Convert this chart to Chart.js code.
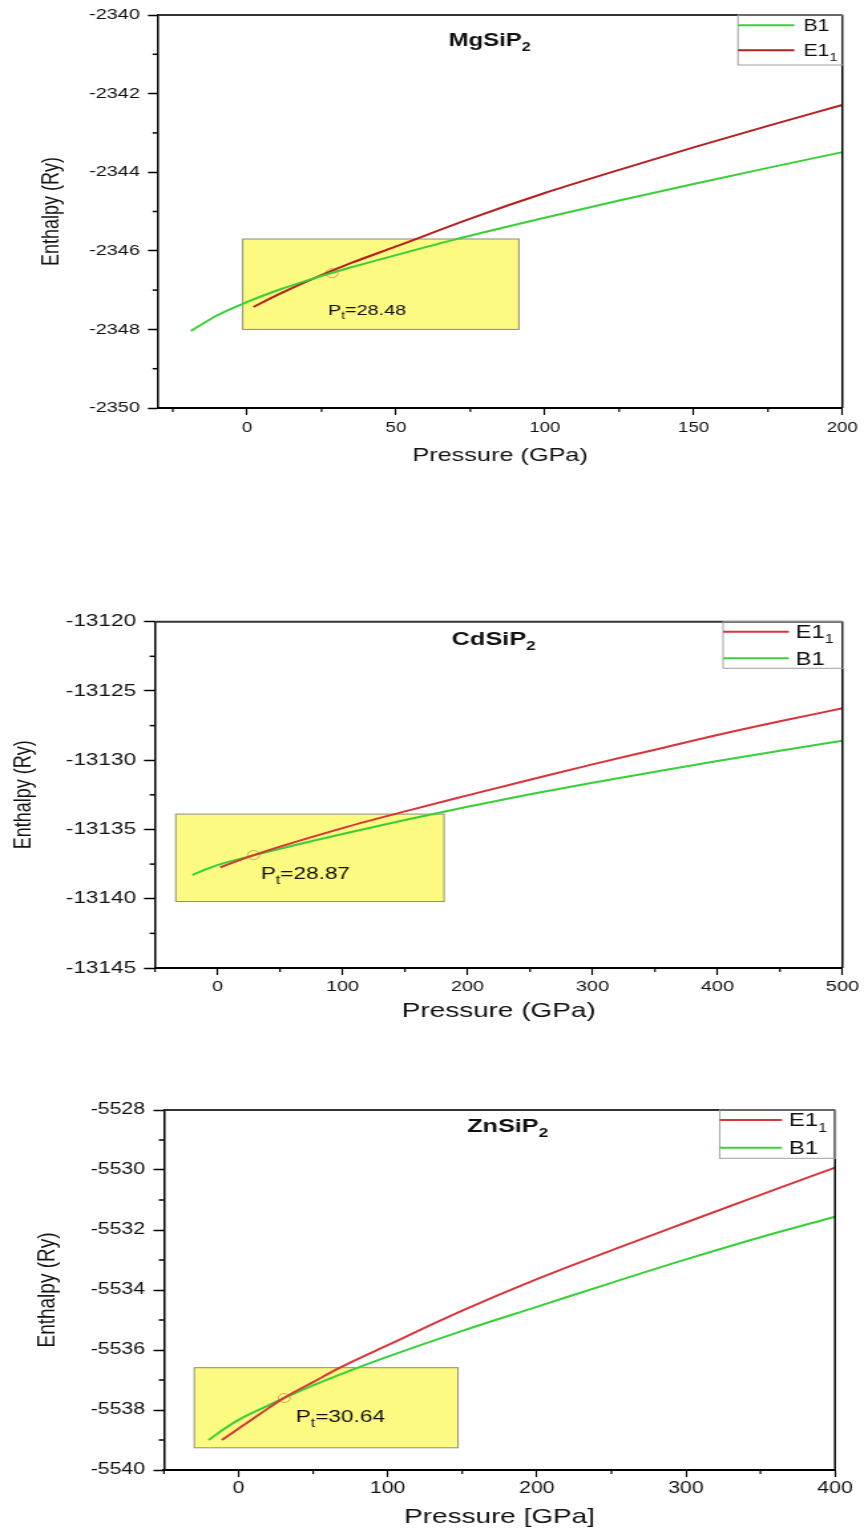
<!DOCTYPE html>
<html>
<head>
<meta charset="utf-8">
<title>Enthalpy vs pressure</title>
<script src="https://cdn.jsdelivr.net/npm/chart.js@4.4.1/dist/chart.umd.min.js"></script>
<style>
  html, body { margin: 0; padding: 0; background: #fff; }
  body { width: 864px; height: 1530px; position: relative; overflow: hidden; }
  /* panels are drawn narrow and widened, like the exported figure */
  .panel { position: absolute; left: 0; transform-origin: 0 0; transform: scaleX(1.3292); }
  .panel canvas { display: block; }
</style>
</head>
<body>
<div class="panel" style="top:0"><canvas id="mgChart" width="650" height="480"></canvas></div>
<div class="panel" style="top:560px"><canvas id="cdChart" width="650" height="480"></canvas></div>
<div class="panel" style="top:1060px"><canvas id="znChart" width="650" height="470"></canvas></div>
<script>
// ---------- DATA ----------
// MgSiP2
const mgB1P = [-18.9, -10, 0, 10, 21.6, 35, 50, 70, 100, 125, 150, 175, 200];
const mgB1H = [-2348.04, -2347.64, -2347.30, -2347.01, -2346.72, -2346.42, -2346.11, -2345.71, -2345.16, -2344.72, -2344.30, -2343.89, -2343.49];
const mgE1P = [2.1, 10, 21.6, 35, 50, 75, 100, 125, 150, 175, 200];
const mgE1H = [-2347.43, -2347.13, -2346.73, -2346.31, -2345.89, -2345.18, -2344.53, -2343.94, -2343.37, -2342.82, -2342.29];
const mgXTicks = [0, 50, 100, 150, 200];
const mgYTicks = [-2350, -2348, -2346, -2344, -2342, -2340];
const mgPt = 28.48, mgPtH = -2346.57;
const mgBox = [-1.5, 91.3, -2348.0, -2345.7];

// CdSiP2
const cdE1P = [2.2, 10, 27.9, 50, 100, 150, 200, 250, 300, 350, 400, 450, 500];
const cdE1H = [-13137.74, -13137.47, -13136.89, -13136.24, -13134.90, -13133.69, -13132.54, -13131.41, -13130.30, -13129.24, -13128.18, -13127.19, -13126.25];
const cdB1P = [-19.9, -10, 0, 27.9, 50, 100, 150, 200, 250, 300, 350, 400, 450, 500];
const cdB1H = [-13138.29, -13137.90, -13137.57, -13136.89, -13136.39, -13135.33, -13134.32, -13133.36, -13132.46, -13131.62, -13130.83, -13130.06, -13129.31, -13128.59];
const cdXTicks = [0, 100, 200, 300, 400, 500];
const cdYTicks = [-13145, -13140, -13135, -13130, -13125, -13120];
const cdPt = 28.87, cdPtH = -13136.85;
const cdBox = [-33.4, 181.3, -13140.2, -13133.89];

// ZnSiP2
const znE1P = [-11.2, 0, 15, 29.7, 50, 68, 100, 150, 200, 250, 300, 350, 400];
const znE1H = [-5539.00, -5538.62, -5538.11, -5537.62, -5537.07, -5536.59, -5535.84, -5534.69, -5533.64, -5532.68, -5531.75, -5530.83, -5529.92];
const znB1P = [-20.1, -10, 0, 15, 29.7, 50, 80, 100, 150, 200, 250, 300, 350, 400];
const znB1H = [-5539.00, -5538.64, -5538.33, -5537.96, -5537.62, -5537.18, -5536.59, -5536.22, -5535.36, -5534.56, -5533.76, -5532.98, -5532.24, -5531.56];
const znXTicks = [0, 100, 200, 300, 400];
const znYTicks = [-5540, -5538, -5536, -5534, -5532, -5530, -5528];
const znPt = 30.64, znPtH = -5537.6;
const znBox = [-29.7, 147.2, -5539.26, -5536.59];

const GREEN = '#38d038';
const FONT = '"Liberation Sans", Arial, Helvetica, sans-serif';
Chart.defaults.font.family = FONT;
Chart.defaults.color = '#111';

const pts = (xs, ys) => xs.map((v, i) => ({ x: v, y: ys[i] }));

// text where "_c" puts c as a subscript
function subText(ctx, str, x, y, size, bold, align) {
  const parts = [];
  for (let i = 0; i < str.length; i++) {
    if (str[i] === '_') { parts.push({ t: str[i + 1], sub: true }); i++; }
    else if (parts.length && !parts[parts.length - 1].sub) parts[parts.length - 1].t += str[i];
    else parts.push({ t: str[i], sub: false });
  }
  const fontOf = p => (bold ? 'bold ' : '') + Math.round(p.sub ? size * 0.68 : size) + 'px ' + FONT;
  let total = 0;
  parts.forEach(p => { ctx.font = fontOf(p); p.w = ctx.measureText(p.t).width; total += p.w; });
  let cx = align === 'center' ? x - total / 2 : x;
  ctx.textAlign = 'left';
  ctx.textBaseline = 'alphabetic';
  parts.forEach(p => {
    ctx.font = fontOf(p);
    ctx.fillText(p.t, cx, p.sub ? y + size * 0.28 : y);
    cx += p.w;
  });
}

function seg(ctx, x1, y1, x2, y2) {
  ctx.beginPath(); ctx.moveTo(x1, y1); ctx.lineTo(x2, y2); ctx.stroke();
}

// ---------- FRAME, HIGHLIGHT BOX, LABELS, LEGEND ----------
const decor = {
  id: 'decor',
  beforeDatasetsDraw(chart, args, o) {
    const { ctx, scales: { x, y } } = chart;
    const l = x.getPixelForValue(o.box[0]), r = x.getPixelForValue(o.box[1]);
    const b = y.getPixelForValue(o.box[2]), t = y.getPixelForValue(o.box[3]);
    ctx.save();
    ctx.fillStyle = 'rgb(252,250,128)';
    ctx.fillRect(l, t, r - l, b - t);
    ctx.strokeStyle = '#8c8c80';
    ctx.lineWidth = 1;
    ctx.strokeRect(l, t, r - l, b - t);
    ctx.restore();
  },
  afterDatasetsDraw(chart, args, o) {
    const { ctx, chartArea: a, scales: { x, y } } = chart;
    ctx.save();

    // top and right edges of the frame
    ctx.strokeStyle = '#333'; ctx.lineWidth = 2;
    seg(ctx, a.left, a.top, a.right, a.top);
    ctx.strokeStyle = '#000'; ctx.lineWidth = 1.5;
    seg(ctx, a.right, a.top, a.right, a.bottom);

    // minor ticks halfway between the labelled ones
    ctx.lineWidth = 1.2;
    const xs = o.minorX, ys = o.minorY;
    for (let v = Math.ceil(x.min / xs) * xs; v <= x.max; v += xs) {
      if (x.ticks.some(t => Math.abs(t.value - v) < 1e-6)) continue;
      const px = x.getPixelForValue(v);
      seg(ctx, px, a.bottom, px, a.bottom + 4);
    }
    ctx.lineWidth = 1.5;
    for (let v = Math.ceil(y.min / ys) * ys; v <= y.max; v += ys) {
      if (y.ticks.some(t => Math.abs(t.value - v) < 1e-6)) continue;
      const py = y.getPixelForValue(v);
      seg(ctx, a.left - 4, py, a.left, py);
    }

    // compound name and transition pressure
    ctx.fillStyle = '#111';
    subText(ctx, o.title, x.getPixelForValue(o.titleAt[0]), y.getPixelForValue(o.titleAt[1]), o.titleSize, true, 'center');
    subText(ctx, 'P_t=' + o.pt.toFixed(2), x.getPixelForValue(o.ptAt[0]), y.getPixelForValue(o.ptAt[1]), o.ptSize, false, 'left');

    // legend box in the top right corner
    const L = o.legend;
    const left = a.right - L.w;
    ctx.strokeStyle = '#a0a0a0'; ctx.lineWidth = 1;
    ctx.strokeRect(left + 0.5, a.top, L.w, L.h);
    chart.data.datasets.filter(d => d.type !== 'scatter').forEach((d, i) => {
      const yy = a.top + L.rows[i];
      ctx.strokeStyle = d.borderColor; ctx.lineWidth = 2;
      seg(ctx, left + 0.5, yy, left + L.line, yy);
      ctx.fillStyle = '#111';
      subText(ctx, d.label, left + L.text, yy + L.size * 0.36, L.size, false, 'left');
    });
    ctx.restore();
  }
};

function axes(o) {
  return {
    x: {
      type: 'linear', min: o.xMin, max: o.xMax,
      afterBuildTicks: s => { s.ticks = o.xTicks.map(v => ({ value: v })); },
      afterFit: s => { s.height = o.xHeight; },
      border: { display: true, color: '#000', width: 2 },
      grid: { drawOnChartArea: false, tickLength: 7, tickColor: '#000', tickWidth: 1.2 },
      ticks: { padding: o.xPad, color: '#111', font: { size: o.xFont }, callback: v => String(v), maxRotation: 0, autoSkip: false },
      title: { display: true, text: o.xTitle, color: '#111', font: { size: o.xTitleFont }, padding: { top: 0, bottom: o.xTitlePad } }
    },
    y: {
      type: 'linear', min: o.yMin, max: o.yMax,
      afterBuildTicks: s => { s.ticks = o.yTicks.map(v => ({ value: v })); },
      afterFit: s => { s.width = o.yWidth; },
      border: { display: true, color: '#000', width: 1.5 },
      grid: { drawOnChartArea: false, tickLength: o.yTick, tickColor: '#000', tickWidth: 1.5 },
      ticks: { padding: o.yPad, color: '#111', font: { size: o.yFont }, callback: v => String(v), autoSkip: false },
      title: { display: true, text: 'Enthalpy (Ry)', color: '#111', font: { size: o.yTitleFont }, padding: { top: o.yTitlePad, bottom: 0 } }
    }
  };
}

function curve(label, xs, ys, color) {
  return { label, data: pts(xs, ys), borderColor: color, borderWidth: 2, pointRadius: 0, fill: false, cubicInterpolationMode: 'monotone' };
}

function marker(px, py) {
  return { type: 'scatter', data: [{ x: px, y: py }], pointRadius: 4.5, pointBorderWidth: 1,
           pointBorderColor: 'rgba(200,140,80,0.75)', pointBackgroundColor: 'rgba(0,0,0,0)' };
}

function makeChart(id, datasets, pad, scaleOpts, deco) {
  return new Chart(document.getElementById(id), {
    type: 'line',
    data: { datasets },
    options: {
      responsive: false, animation: false, devicePixelRatio: 1, events: [],
      layout: { padding: pad },
      scales: axes(scaleOpts),
      plugins: { legend: { display: false }, tooltip: { enabled: false }, decor: deco }
    },
    plugins: [decor]
  });
}

// ---------- MgSiP2 ----------
makeChart('mgChart',
  [curve('B1', mgB1P, mgB1H, GREEN), curve('E1_1', mgE1P, mgE1H, '#b3201f'), marker(mgPt, mgPtH)],
  { left: 0, right: 16.2, top: 14, bottom: 0 },
  { xMin: -30, xMax: 200, xTicks: mgXTicks, xHeight: 72, xPad: 4.6, xFont: 14, xTitle: 'Pressure (GPa)', xTitleFont: 19, xTitlePad: 12.8,
    yMin: -2350, yMax: -2340, yTicks: mgYTicks, yWidth: 118.8, yTick: 7.5, yPad: 6, yFont: 15, yTitleFont: 18, yTitlePad: 28.3 },
  { box: mgBox, minorX: 25, minorY: 1, title: 'MgSiP_2', titleAt: [81.5, -2340.79], titleSize: 18,
    pt: mgPt, ptAt: [27.1, -2347.64], ptSize: 15,
    legend: { w: 79, h: 50, line: 42.9, text: 49.7, size: 16, rows: [10.3, 35.3] } });

// ---------- CdSiP2 ----------
makeChart('cdChart',
  [curve('E1_1', cdE1P, cdE1H, '#d8333a'), curve('B1', cdB1P, cdB1H, GREEN), marker(cdPt, cdPtH)],
  { left: 0, right: 16.2, top: 61.7, bottom: 0 },
  { xMin: -50, xMax: 500, xTicks: cdXTicks, xHeight: 72, xPad: 3.2, xFont: 15, xTitle: 'Pressure (GPa)', xTitleFont: 21, xTitlePad: 16.6,
    yMin: -13145, yMax: -13120, yTicks: cdYTicks, yWidth: 116.6, yTick: 8.3, yPad: 5.9, yFont: 17, yTitleFont: 18, yTitlePad: 7.5 },
  { box: cdBox, minorX: 50, minorY: 2.5, title: 'CdSiP_2', titleAt: [221, -13121.68], titleSize: 19,
    pt: cdPt, ptAt: [34.6, -13138.6], ptSize: 17,
    legend: { w: 90.3, h: 46.6, line: 50, text: 55, size: 18, rows: [10, 36.6] } });

// ---------- ZnSiP2 ----------
makeChart('znChart',
  [curve('E1_1', znE1P, znE1H, '#d8363a'), curve('B1', znB1P, znB1H, GREEN), marker(znPt, znPtH)],
  { left: 0, right: 21.8, top: 50, bottom: 0 },
  { xMin: -50, xMax: 400, xTicks: znXTicks, xHeight: 60, xPad: 2.4, xFont: 16, xTitle: 'Pressure [GPa]', xTitleFont: 21, xTitlePad: 0,
    yMin: -5540, yMax: -5528, yTicks: znYTicks, yWidth: 123.4, yTick: 8, yPad: 6.3, yFont: 16, yTitleFont: 19, yTitlePad: 23.9 },
  { box: znBox, minorX: 50, minorY: 1, title: 'ZnSiP_2', titleAt: [180.5, -5528.72], titleSize: 19,
    pt: znPt, ptAt: [38.3, -5538.41], ptSize: 17,
    legend: { w: 87.3, h: 48.3, line: 47.4, text: 52.7, size: 18, rows: [10, 37.7] } });
</script>
</body>
</html>
